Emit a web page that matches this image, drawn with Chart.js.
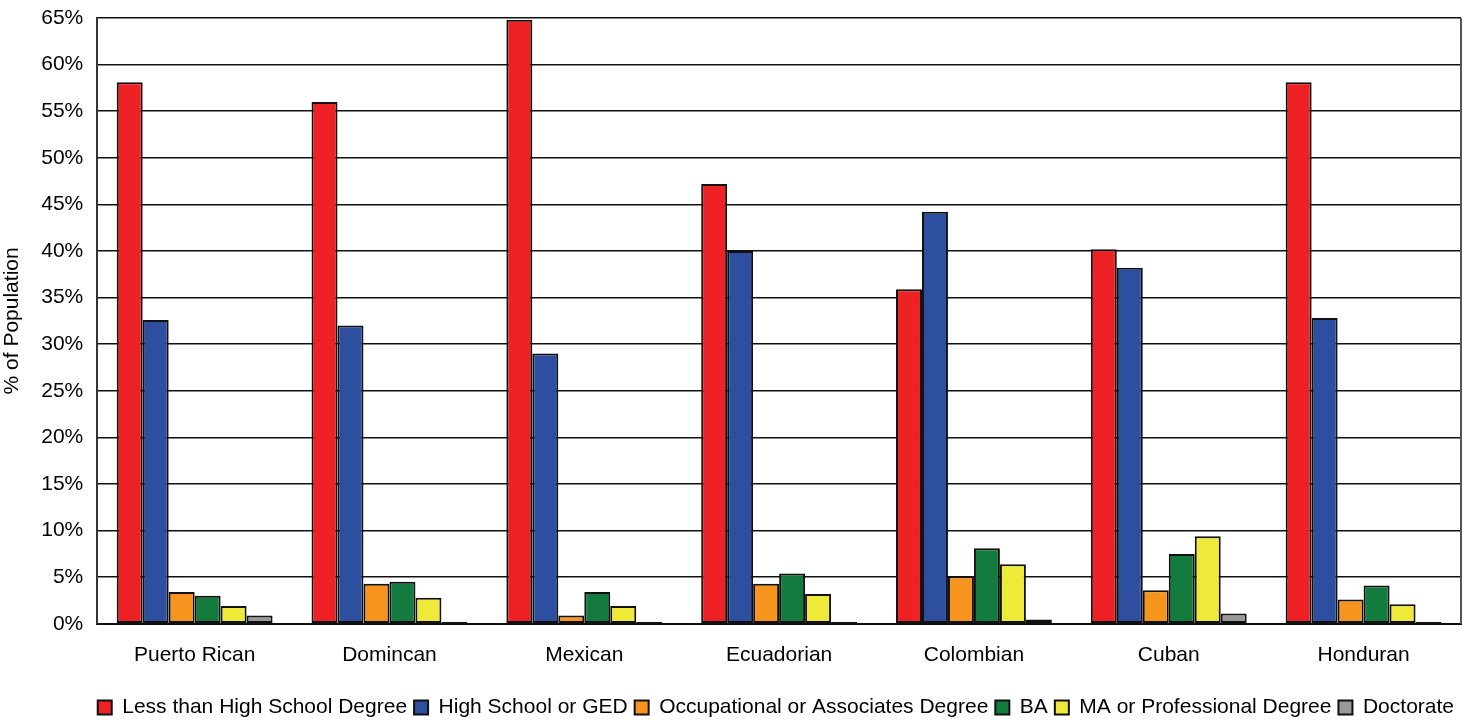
<!DOCTYPE html>
<html>
<head>
<meta charset="utf-8">
<script src="https://cdn.jsdelivr.net/npm/chart.js@4.4.0/dist/chart.umd.min.js"></script>
<style>
  html, body { margin: 0; padding: 0; background: #fff; }
  #wrap { width: 1473px; height: 728px; }
</style>
</head>
<body>
<div id="wrap"><canvas id="chart"></canvas></div>
<script>
// ======= data =======
const groups = ['Puerto Rican', 'Domincan', 'Mexican', 'Ecuadorian', 'Colombian', 'Cuban', 'Honduran'];
const lessThanHS = [58.1, 56.0, 64.8, 47.2, 35.9, 40.2, 58.1];
const highSchool = [32.6, 32.0, 29.0, 40.0, 44.2, 38.2, 32.8];
const occupational = [3.4, 4.3, 0.9, 4.3, 5.1, 3.6, 2.6];
const ba = [3.0, 4.5, 3.4, 5.4, 8.1, 7.5, 4.1];
const maProf = [1.9, 2.8, 1.9, 3.2, 6.4, 9.4, 2.1];
const doctorate = [0.9, 0.2, 0.2, 0.2, 0.45, 1.1, 0.2];

const FONT = 'Liberation Sans, Arial, sans-serif';

const series = [
  { label: 'Less than High School Degree', data: lessThanHS, color: '#ee2224' },
  { label: 'High School or GED', data: highSchool, color: '#2e4f9f' },
  { label: 'Occupational or Associates Degree', data: occupational, color: '#f7941d' },
  { label: 'BA', data: ba, color: '#137b3e' },
  { label: 'MA or Professional Degree', data: maProf, color: '#efea3a' },
  { label: 'Doctorate', data: doctorate, color: '#999999' }
];

// right edge of the plot box
const frame = {
  id: 'frame',
  afterDraw(chart) {
    const a = chart.chartArea, c = chart.ctx;
    c.save();
    c.strokeStyle = '#555';
    c.lineWidth = 2;
    c.beginPath();
    c.moveTo(a.right, a.top);
    c.lineTo(a.right, a.bottom);
    c.stroke();
    c.restore();
  }
};

new Chart(document.getElementById('chart').getContext('2d'), {
  type: 'bar',
  data: {
    labels: groups,
    datasets: series.map(s => ({
      label: s.label,
      data: s.data,
      backgroundColor: s.color,
      borderColor: '#111',
      borderWidth: 2,
      borderSkipped: false,
      categoryPercentage: 0.8,
      barPercentage: 1.0
    }))
  },
  options: {
    responsive: true,
    maintainAspectRatio: false,
    animation: false,
    layout: { padding: { top: 0, right: 12, left: 0, bottom: 0 } },
    scales: {
      x: {
        grid: { display: false, drawTicks: false },
        border: { color: '#111', width: 2 },
        ticks: { color: '#000', padding: 19, font: { family: FONT, size: 21 } },
        afterFit(scale) { scale.height += 3; }
      },
      y: {
        min: 0,
        max: 65,
        ticks: {
          stepSize: 5,
          color: '#000',
          padding: 14,
          font: { family: FONT, size: 21, lineHeight: 1 },
          callback: v => v + '%'
        },
        grid: { color: '#111', lineWidth: 1.5, drawTicks: false },
        border: { color: '#333', width: 2 },
        title: {
          display: true,
          text: '% of Population',
          color: '#000',
          padding: { top: 0, bottom: 2 },
          font: { family: FONT, size: 21 }
        },
        afterFit(scale) { scale.paddingTop = 18; }
      }
    },
    plugins: {
      legend: {
        position: 'bottom',
        align: 'end',
        labels: {
          color: '#000',
          boxWidth: 14,
          boxHeight: 14,
          padding: 7,
          font: { family: FONT, size: 21 }
        }
      },
      tooltip: { enabled: false }
    }
  },
  plugins: [frame]
});
</script>
</body>
</html>
